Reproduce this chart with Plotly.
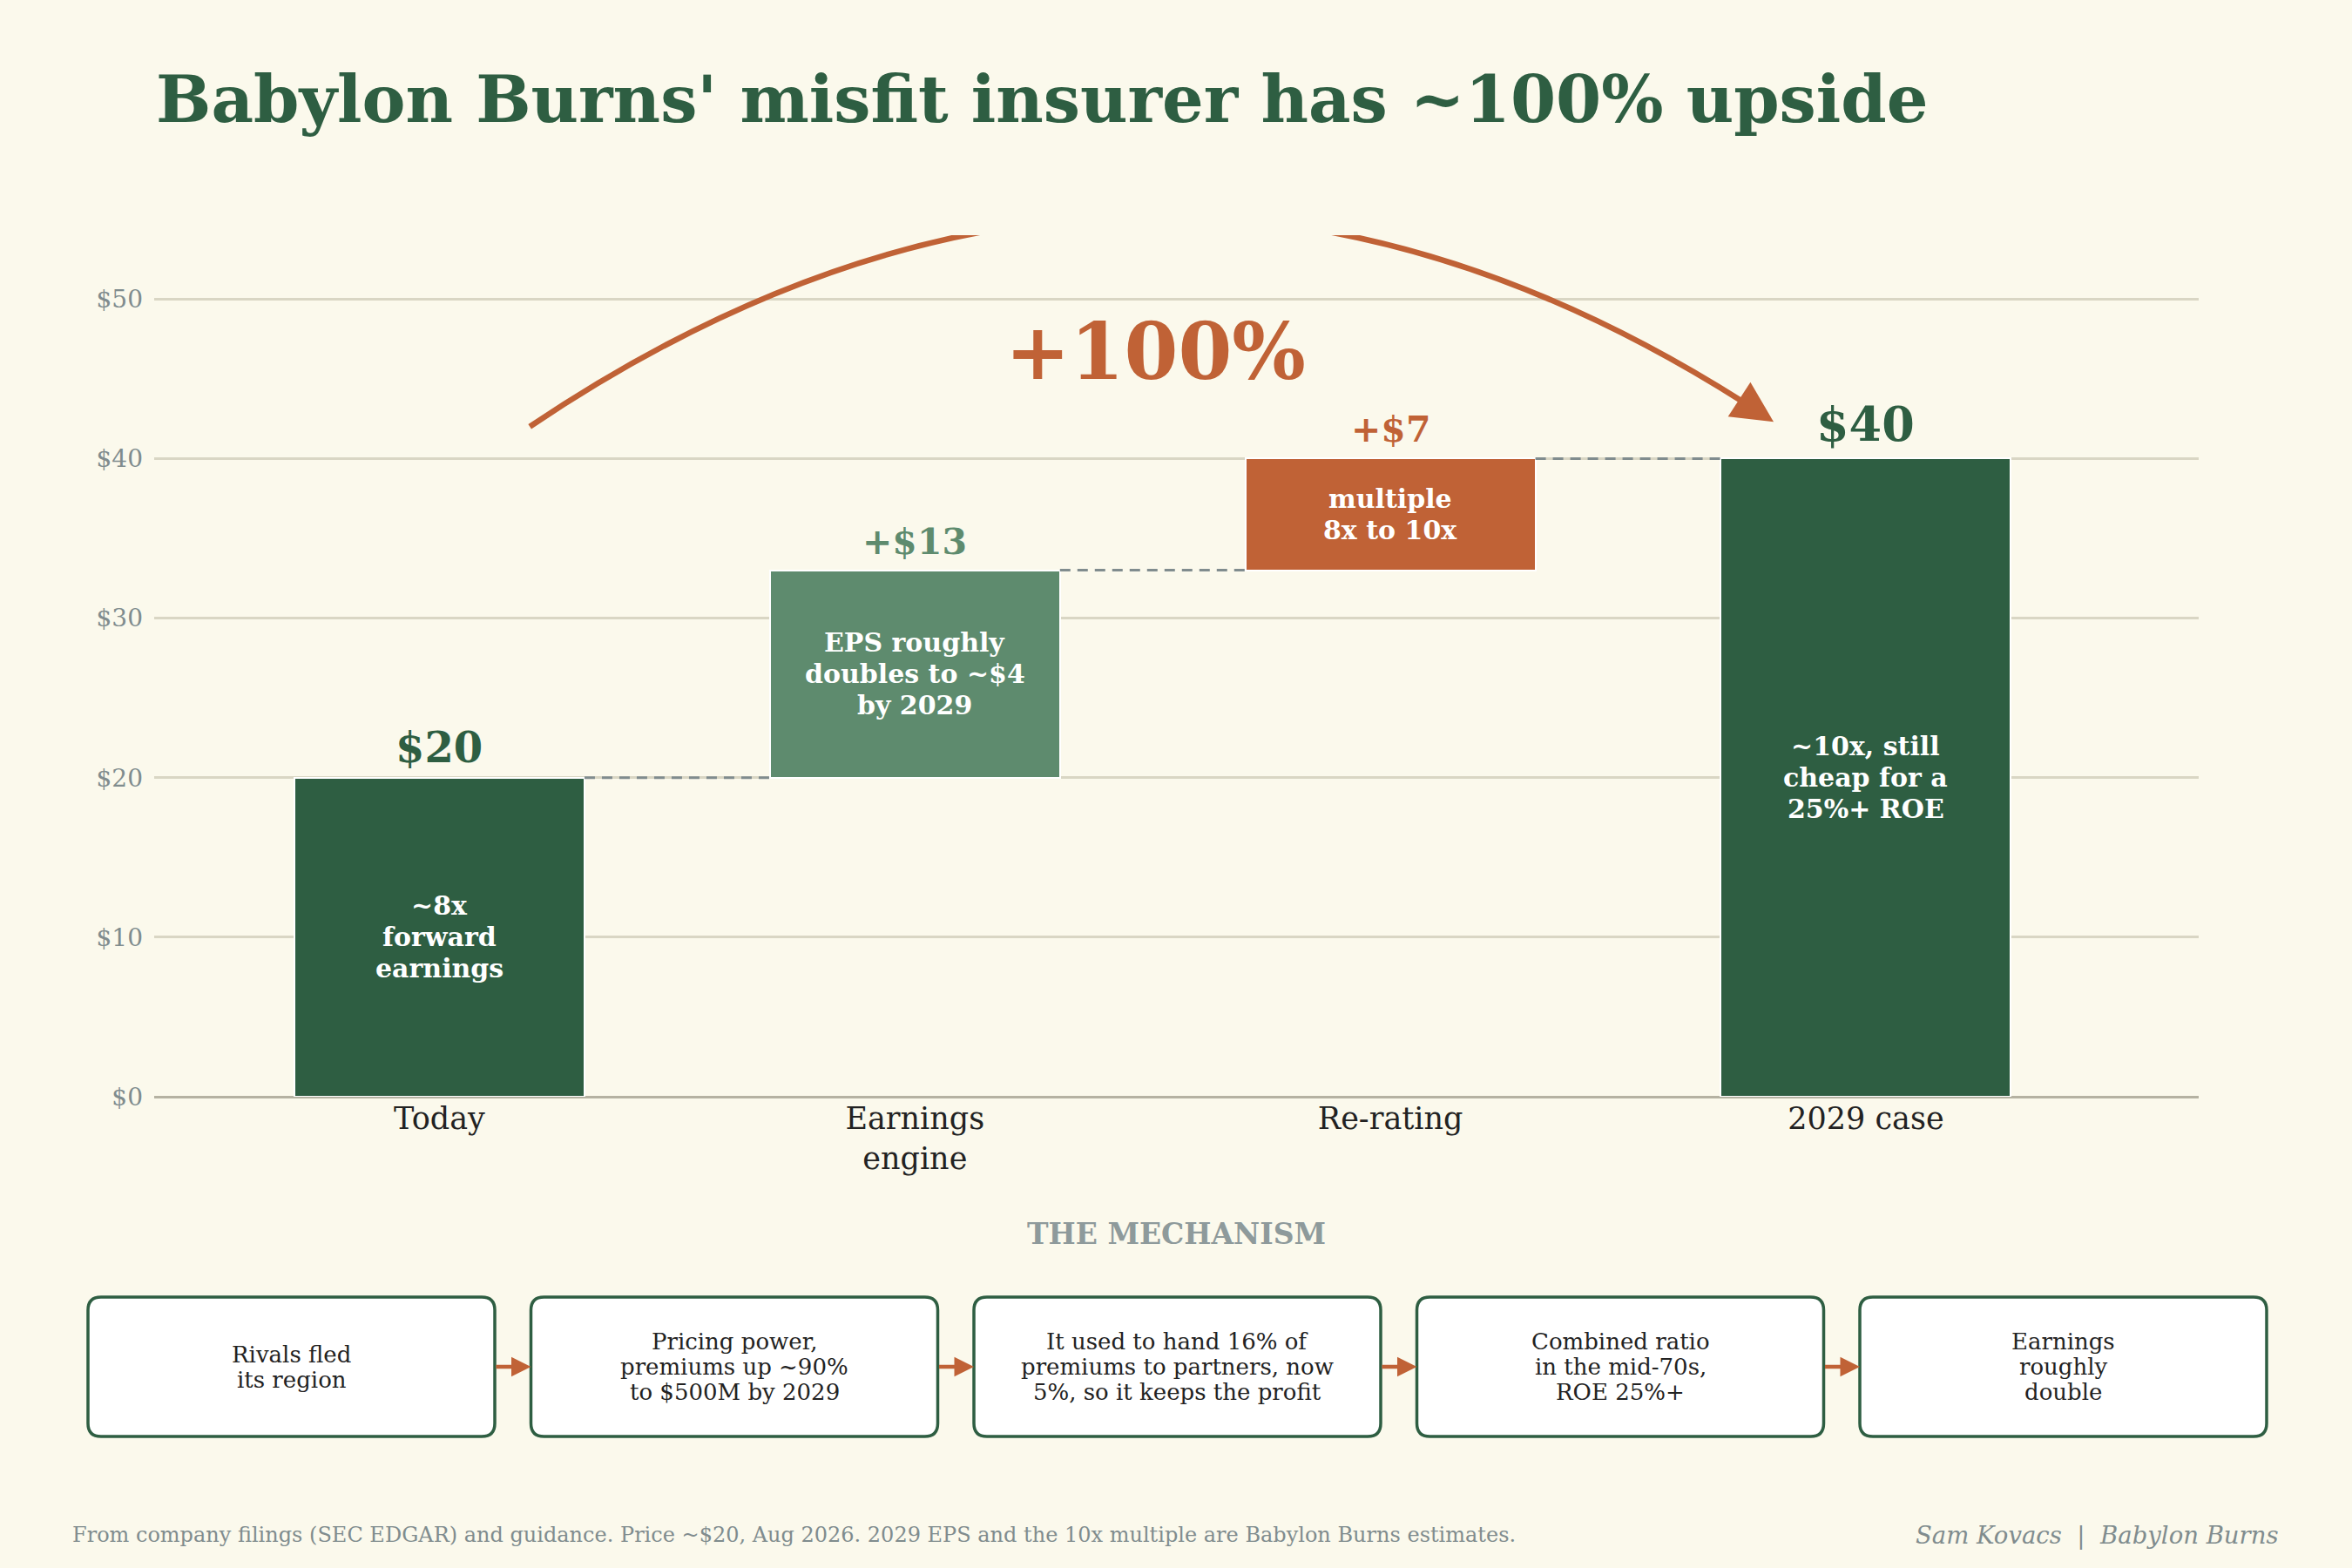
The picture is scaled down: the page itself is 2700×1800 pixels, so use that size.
import plotly.graph_objects as go

# ---- data ----
categories = ["Today", "Earnings<br>engine", "Re-rating", "2029 case"]
start_value = 20
step_values = [13, 7]
bar_colors = ["#2E5E42", "#5E8B6E", "#C06236", "#2E5E42"]
value_labels = ["$20", "+$13", "+$7", "$40"]
inner_labels = [
    "~8x<br>forward<br>earnings",
    "EPS roughly<br>doubles to ~$4<br>by 2029",
    "multiple<br>8x to 10x",
    "~10x, still<br>cheap for a<br>25%+ ROE",
]
y_ticks = [0, 10, 20, 30, 40, 50]
y_tick_text = ["$0", "$10", "$20", "$30", "$40", "$50"]
upside_label = "+100%"
mechanism_steps = [
    "Rivals fled<br>its region",
    "Pricing power,<br>premiums up ~90%<br>to $500M by 2029",
    "It used to hand 16% of<br>premiums to partners, now<br>5%, so it keeps the profit",
    "Combined ratio<br>in the mid-70s,<br>ROE 25%+",
    "Earnings<br>roughly<br>double",
]

# ---- style ----
BG = "#FBF9EC"
DARK = "#2E5E42"
MID = "#5E8B6E"
ORANGE = "#C06236"
GRAY = "#808C8E"
GRID = "#D9D6C4"
FONT = "DejaVu Serif"
W, H = 2700, 1800
L, R, T, B = 177, 2524, 270, 1259  # plot area in pixels
BAR_W = 0.61


def px(x):
    return (x - L) / (R - L)


def py(y):
    return (B - y) / (B - T)


annotations = []


def add_lines(x, y, xref, yref, text, size, color, spacing, weight="normal"):
    lines = text.split("<br>")
    n = len(lines)
    for k, line in enumerate(lines):
        annotations.append(dict(
            x=x, y=y, xref=xref, yref=yref, text=line, showarrow=False,
            xanchor="center", yanchor="middle",
            yshift=((n - 1) / 2 - k) * spacing,
            font=dict(family=FONT, size=size, color=color, weight=weight),
        ))


# waterfall geometry from the data
end_value = start_value + sum(step_values)
heights = [start_value] + step_values + [end_value]
bases = [0]
level = start_value
for s in step_values:
    bases.append(level)
    level += s
bases.append(0)
tops = [b + h for b, h in zip(bases, heights)]
xs = list(range(len(categories)))

fig = go.Figure()

fig.add_trace(
    go.Bar(
        x=xs,
        y=heights,
        base=bases,
        width=BAR_W,
        marker=dict(color=bar_colors, line=dict(color="white", width=2)),
        hoverinfo="skip",
        showlegend=False,
    )
)

# dashed connectors between bars
cx, cy = [], []
for i in range(len(categories) - 1):
    cx += [i + BAR_W / 2, i + 1 - BAR_W / 2, None]
    cy += [tops[i], tops[i], None]
fig.add_trace(
    go.Scatter(
        x=cx, y=cy, mode="lines",
        line=dict(color=GRAY, width=3, dash="12px,8px"),
        hoverinfo="skip", showlegend=False,
    )
)

label_sizes = [48, 41, 41, 54]
label_shifts = [5, 7, 7, 5]
for i, (lab, col, sz) in enumerate(zip(value_labels, bar_colors, label_sizes)):
    annotations.append(dict(
        x=i, y=tops[i], xref="x", yref="y", text=lab, showarrow=False,
        xanchor="center", yanchor="bottom", yshift=label_shifts[i],
        font=dict(family=FONT, size=sz, color=col, weight="bold"),
    ))
for i, lab in enumerate(inner_labels):
    add_lines(i, bases[i] + heights[i] / 2, "x", "y", lab, 30, "white", 36, weight="bold")

# the big arc over the chart (quadratic bezier, clipped by the plot area)
arc_p0 = (0.19, 42.0)
arc_c = (1.50, 68.3)
arc_tip = (2.806, 42.3)
t = 0.975
sub_c = (arc_p0[0] + t * (arc_c[0] - arc_p0[0]), arc_p0[1] + t * (arc_c[1] - arc_p0[1]))
sub_end = (
    (1 - t) ** 2 * arc_p0[0] + 2 * t * (1 - t) * arc_c[0] + t ** 2 * arc_tip[0],
    (1 - t) ** 2 * arc_p0[1] + 2 * t * (1 - t) * arc_c[1] + t ** 2 * arc_tip[1],
)
shapes = [dict(
    type="path", xref="x", yref="y",
    path=f"M {arc_p0[0]},{arc_p0[1]} Q {sub_c[0]},{sub_c[1]} {sub_end[0]},{sub_end[1]}",
    line=dict(color=ORANGE, width=6.5), layer="above",
)]
annotations.append(dict(
    x=arc_tip[0], y=arc_tip[1], xref="x", yref="y",
    ax=sub_end[0], ay=sub_end[1], axref="x", ayref="y",
    text="", showarrow=True, arrowhead=2, arrowsize=1.45, arrowwidth=6.5,
    arrowcolor=ORANGE,
))
annotations.append(dict(
    x=1.506, y=46.7, xref="x", yref="y", text=upside_label, showarrow=False,
    xanchor="center", yanchor="middle",
    font=dict(family=FONT, size=89, color=ORANGE, weight="bold"),
))

# title
annotations.append(dict(
    x=px(177), y=py(114), xref="paper", yref="paper", xanchor="left", yanchor="middle",
    text="Babylon Burns' misfit insurer has ~100% upside", showarrow=False,
    font=dict(family=FONT, size=75, color=DARK, weight="bold"),
))

# mechanism strip
annotations.append(dict(
    x=px(1350), y=py(1416), xref="paper", yref="paper", text="THE MECHANISM",
    xanchor="center", yanchor="middle", showarrow=False,
    font=dict(family=FONT, size=33, color="#8E9A9B", weight="bold"),
))
box_left, box_w, box_gap = 101, 467, 41.5
box_top, box_bot, rad = 1489, 1649, 15
for i, txt in enumerate(mechanism_steps):
    x0 = box_left + i * (box_w + box_gap)
    x1 = x0 + box_w
    a, b_ = px(x0), px(x1)
    c, d = py(box_top), py(box_bot)
    rx, ry = rad / (R - L), rad / (B - T)
    path = (
        f"M {a + rx},{c} L {b_ - rx},{c} Q {b_},{c} {b_},{c - ry} "
        f"L {b_},{d + ry} Q {b_},{d} {b_ - rx},{d} "
        f"L {a + rx},{d} Q {a},{d} {a},{d + ry} "
        f"L {a},{c - ry} Q {a},{c} {a + rx},{c} Z"
    )
    shapes.append(dict(
        type="path", xref="paper", yref="paper", path=path,
        fillcolor="white", line=dict(color=DARK, width=3.5), layer="above",
    ))
    add_lines(px((x0 + x1) / 2), py((box_top + box_bot) / 2), "paper", "paper",
              txt, 26, "#222222", 29)
    if i > 0:
        annotations.append(dict(
            x=px(x0), y=py((box_top + box_bot) / 2), xref="paper", yref="paper",
            ax=-box_gap, ay=0, text="", showarrow=True, arrowhead=2,
            arrowsize=1.0, arrowwidth=4.5, arrowcolor=ORANGE,
        ))

# footer
annotations.append(dict(
    x=px(81), y=py(1762), xref="paper", yref="paper", xanchor="left", yanchor="middle",
    text="From company filings (SEC EDGAR) and guidance. Price ~$20, Aug 2026. "
         "2029 EPS and the 10x multiple are Babylon Burns estimates.",
    showarrow=False, font=dict(family=FONT, size=24, color=GRAY),
))
annotations.append(dict(
    x=px(2618), y=py(1762), xref="paper", yref="paper", xanchor="right", yanchor="middle",
    text="<i>Sam Kovacs  |  Babylon Burns</i>", showarrow=False,
    font=dict(family=FONT, size=27.5, color=GRAY),
))

fig.update_layout(
    width=W, height=H,
    paper_bgcolor=BG, plot_bgcolor=BG,
    margin=dict(l=L, r=W - R, t=T, b=H - B, pad=0),
    shapes=shapes, annotations=annotations,
    bargap=0, showlegend=False,
)
fig.update_xaxes(
    range=[-0.6, 3.7], tickvals=xs, ticktext=categories,
    showgrid=False, zeroline=False, showline=False, ticks="",
    tickfont=dict(family=FONT, size=35, color="#222222"),
    ticklabelstandoff=1, fixedrange=True,
)
fig.update_yaxes(
    range=[0, 54], tickvals=y_ticks, ticktext=y_tick_text,
    showgrid=True, gridcolor=GRID, gridwidth=2.5,
    zeroline=True, zerolinecolor="#B5B2A2", zerolinewidth=3,
    showline=False, ticks="",
    tickfont=dict(family=FONT, size=28, color=GRAY),
    ticklabelstandoff=12, fixedrange=True,
)

fig.write_html(
    "out.html",
    config={"displayModeBar": False},
    post_script="document.body.style.margin='0';",
)
